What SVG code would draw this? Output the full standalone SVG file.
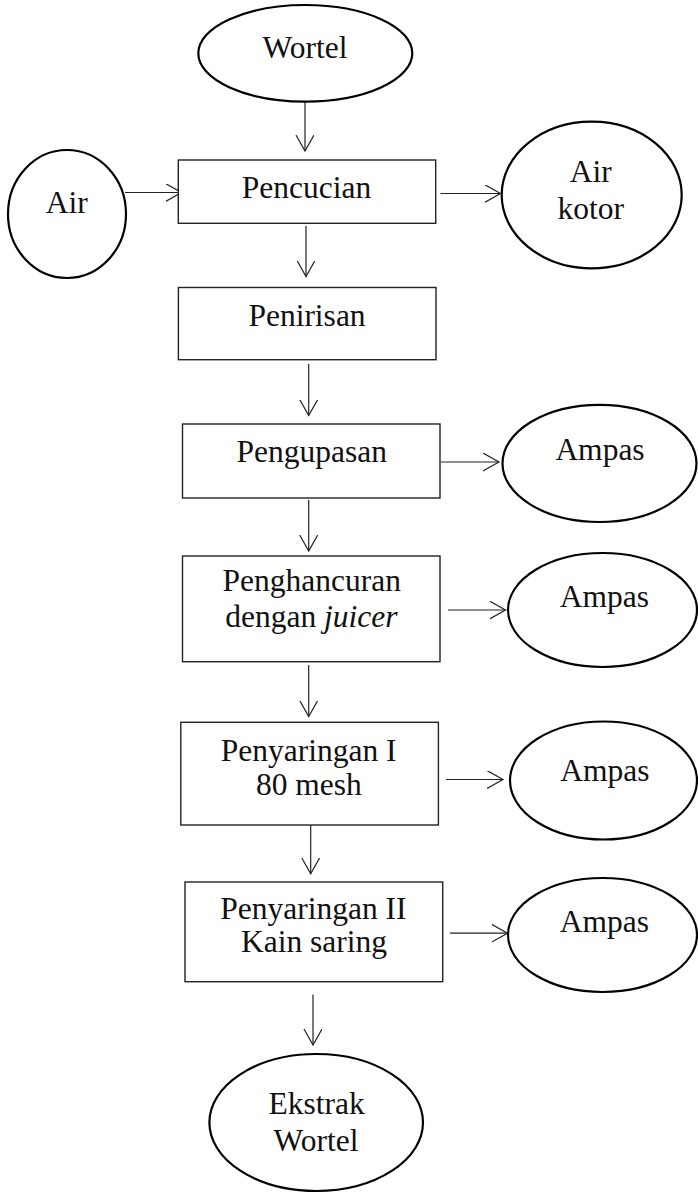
<svg xmlns="http://www.w3.org/2000/svg" width="698" height="1194" viewBox="0 0 698 1194">
<style>
.box{fill:#fff;stroke:#222;stroke-width:1.4}
.term{fill:#fff;stroke:#000;stroke-width:2.2}
.t{font-family:"Liberation Serif","Times New Roman",serif;font-size:31.5px;fill:#111;text-anchor:middle}
.c{fill:none;stroke:#222;stroke-width:1.2}
</style>
<defs>
<marker id="ah" markerUnits="userSpaceOnUse" markerWidth="20" markerHeight="20" refX="16" refY="9" orient="auto">
<path d="M0,0 L16,9 L0,18" fill="none" stroke="#222" stroke-width="1.2"/>
</marker>
</defs>
<rect width="698" height="1194" fill="#fff"/>
<g id="connectors">
<line class="c" x1="305" y1="102" x2="305" y2="151" marker-end="url(#ah)"/>
<line class="c" x1="125" y1="192.5" x2="181.5" y2="192.5" marker-end="url(#ah)"/>
<line class="c" x1="440.5" y1="193.5" x2="500.5" y2="193.5" marker-end="url(#ah)"/>
<line class="c" x1="306" y1="226" x2="306" y2="276.5" marker-end="url(#ah)"/>
<line class="c" x1="308.7" y1="364" x2="308.7" y2="415.5" marker-end="url(#ah)"/>
<line class="c" x1="441" y1="462" x2="499" y2="462" marker-end="url(#ah)"/>
<line class="c" x1="308.7" y1="500" x2="308.7" y2="551" marker-end="url(#ah)"/>
<line class="c" x1="448" y1="610" x2="505.5" y2="610" marker-end="url(#ah)"/>
<line class="c" x1="308.7" y1="665" x2="308.7" y2="716.5" marker-end="url(#ah)"/>
<line class="c" x1="446" y1="779.5" x2="503" y2="779.5" marker-end="url(#ah)"/>
<line class="c" x1="310.7" y1="822.5" x2="310.7" y2="873.8" marker-end="url(#ah)"/>
<line class="c" x1="450" y1="933.2" x2="507.5" y2="933.2" marker-end="url(#ah)"/>
<line class="c" x1="313" y1="994.5" x2="313" y2="1045" marker-end="url(#ah)"/>
</g>
<g id="wortel">
<ellipse class="term" cx="305.3" cy="53.3" rx="107" ry="48.3"/>
<text class="t" x="305" y="58">Wortel</text>
</g>
<g id="air">
<ellipse class="term" cx="67" cy="214" rx="59" ry="64"/>
<text class="t" x="66.7" y="213.3">Air</text>
</g>
<g id="pencucian">
<rect class="box" x="178.3" y="160" width="257.4" height="63.3"/>
<text class="t" x="306.5" y="198">Pencucian</text>
</g>
<g id="air-kotor">
<ellipse class="term" cx="591.7" cy="195" rx="90" ry="73.3"/>
<text class="t" x="590.7" y="181.7">Air</text>
<text class="t" x="590.7" y="219.3">kotor</text>
</g>
<g id="penirisan">
<rect class="box" x="178.4" y="287.5" width="257.6" height="72.2"/>
<text class="t" x="307" y="326">Penirisan</text>
</g>
<g id="pengupasan">
<rect class="box" x="182.5" y="424" width="257.5" height="74"/>
<text class="t" x="311.8" y="462">Pengupasan</text>
</g>
<g id="ampas-1">
<ellipse class="term" cx="599.5" cy="463.4" rx="97" ry="58.6"/>
<text class="t" x="600" y="460">Ampas</text>
</g>
<g id="penghancuran">
<rect class="box" x="182.5" y="556" width="257.5" height="105.7"/>
<text class="t" x="311.8" y="591">Penghancuran</text>
<text class="t" x="311.4" y="627">dengan <tspan font-style="italic">juicer</tspan></text>
</g>
<g id="ampas-2">
<ellipse class="term" cx="602.5" cy="610" rx="94.5" ry="57"/>
<text class="t" x="604.3" y="607">Ampas</text>
</g>
<g id="penyaringan-1">
<rect class="box" x="180.8" y="722.3" width="257.6" height="102.7"/>
<text class="t" x="308.6" y="761">Penyaringan I</text>
<text class="t" x="308.9" y="794.7">80 mesh</text>
</g>
<g id="ampas-3">
<ellipse class="term" cx="603.5" cy="780.5" rx="93.5" ry="59"/>
<text class="t" x="604.8" y="780.5">Ampas</text>
</g>
<g id="penyaringan-2">
<rect class="box" x="185" y="882" width="257.7" height="99.7"/>
<text class="t" x="313.4" y="918.7">Penyaringan II</text>
<text class="t" x="314" y="952.4">Kain saring</text>
</g>
<g id="ampas-4">
<ellipse class="term" cx="602.5" cy="935" rx="94.5" ry="57"/>
<text class="t" x="604.3" y="932.2">Ampas</text>
</g>
<g id="ekstrak-wortel">
<ellipse class="term" cx="316.2" cy="1122.5" rx="106.8" ry="68.5"/>
<text class="t" x="316.6" y="1114">Ekstrak</text>
<text class="t" x="316" y="1151">Wortel</text>
</g>
</svg>
